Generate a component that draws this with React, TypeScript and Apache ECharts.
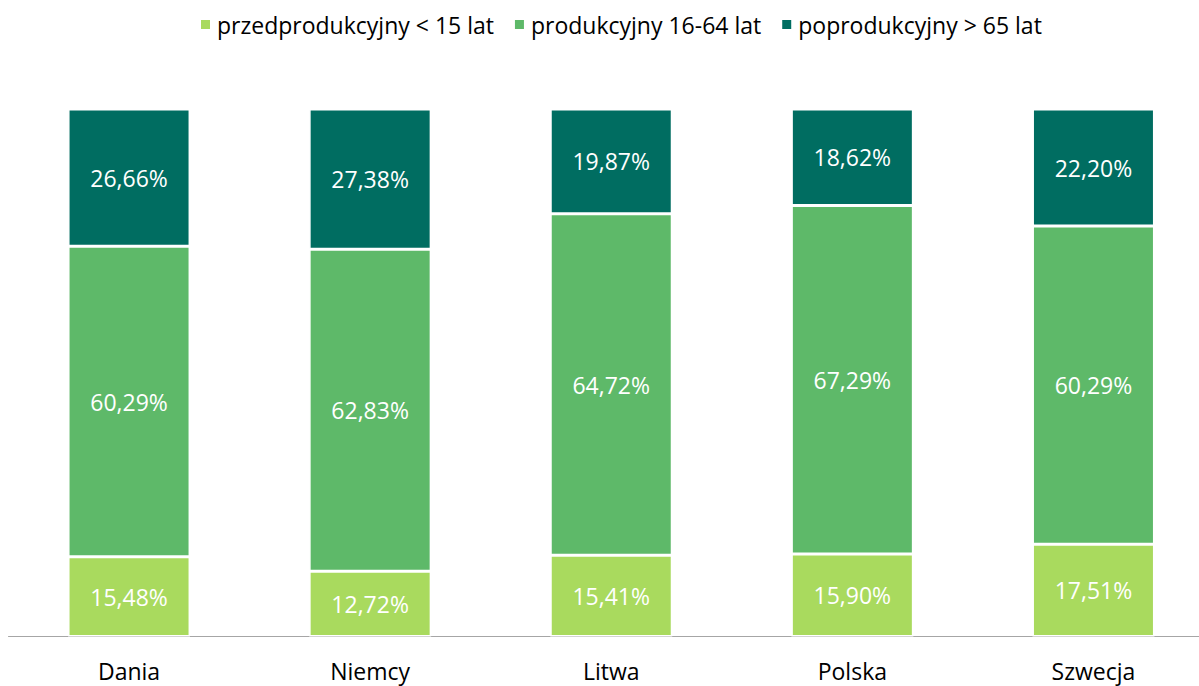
import React, { useEffect, useRef } from "react";
import * as echarts from "echarts";

const categories = ["Dania", "Niemcy", "Litwa", "Polska", "Szwecja"];
const przed = [15.48, 12.72, 15.41, 15.9, 17.51];
const prod = [60.29, 62.83, 64.72, 67.29, 60.29];
const poprod = [26.66, 27.38, 19.87, 18.62, 22.2];
const seriesNames = ["przedprodukcyjny < 15 lat", "produkcyjny 16-64 lat", "poprodukcyjny > 65 lat"];
const colors = ["#A9DA5E", "#5EB969", "#006D61"];

const FONT = "'Open Sans', sans-serif";

export default function App() {
  const ref = useRef<HTMLDivElement>(null);
  useEffect(() => {
    if (!ref.current) return;
    const chart = echarts.init(ref.current, null, { renderer: "svg" });
    const raw = [przed, prod, poprod];
    const totals = categories.map((_, i) => przed[i] + prod[i] + poprod[i]);
    const fmt = (v: number) => v.toFixed(2).replace(".", ",") + "%";
    chart.setOption({
      animation: false,
      textStyle: { fontFamily: FONT },
      legend: {
        top: 8,
        left: 194,
        itemWidth: 11,
        itemHeight: 11,
        itemGap: 19,
        icon: "rect",
        textStyle: { fontSize: 23, color: "#000", fontFamily: FONT, padding: [0, 0, 0, 1] },
        data: seriesNames,
      },
      grid: { left: 8.5, top: 109, right: 0, bottom: 49.5, containLabel: false },
      xAxis: {
        type: "category",
        data: categories,
        axisLine: { lineStyle: { color: "#A6A6A6", width: 1 } },
        axisTick: { show: false },
        axisLabel: { fontSize: 23, color: "#000", margin: 23, fontFamily: FONT },
      },
      yAxis: { type: "value", min: 0, max: 100, show: false, splitLine: { show: false } },
      series: raw.map((arr, si) => ({
        name: seriesNames[si],
        type: "bar",
        stack: "total",
        barWidth: 122,
        itemStyle: { color: colors[si], borderColor: "#fff", borderWidth: 1.5 },
        label: {
          show: true,
          position: "inside",
          color: "#fff",
          fontSize: 23,
          fontFamily: FONT,
          formatter: (p: any) => fmt(arr[p.dataIndex]),
        },
        data: arr.map((v, i) => (v / totals[i]) * 100),
      })),
    });
    return () => chart.dispose();
  }, []);
  return <div ref={ref} style={{ position: "fixed", left: 0, top: 0, width: 1214, height: 686, background: "#fff" }} />;
}
